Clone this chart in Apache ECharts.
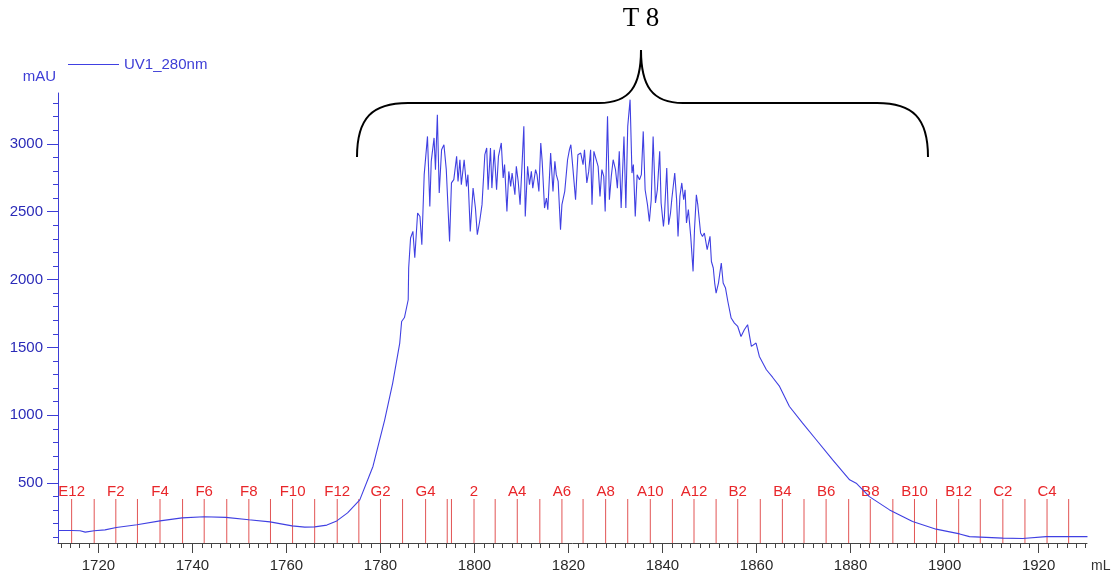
<!DOCTYPE html>
<html lang="en">
<head>
<meta charset="UTF-8">
<style>
  html, body { height: 100%; margin: 0; background: #fff; }
</style>
</head>
<body>
<div id="chart" style="width:1115px;height:580px;"></div>
<script src="https://cdn.jsdelivr.net/npm/echarts@6/dist/echarts.min.js"></script>
<script>
// UV trace (mL, mAU)
var volumeML = [
  1711.4, 1714.3, 1716.1, 1717.2, 1719.1, 1721.4, 1723.8, 1728.2, 1733.1, 1737.8,
  1742.5, 1747.1, 1752.0, 1756.5, 1761.2, 1763.9, 1766.0, 1768.6, 1770.7, 1773.0,
  1775.6, 1778.4, 1780.9, 1782.6, 1784.1, 1784.5, 1785.1, 1785.9, 1786.0, 1786.4,
  1786.9, 1787.3, 1787.9, 1788.4, 1788.8, 1789.3, 1790.0, 1790.5, 1790.8, 1791.4,
  1791.7, 1792.1, 1792.5, 1793.0, 1793.5, 1794.0, 1794.7, 1795.1, 1795.6, 1796.2,
  1796.5, 1796.9, 1797.2, 1797.8, 1798.3, 1798.6, 1799.1, 1799.7, 1800.2, 1800.6,
  1801.1, 1801.6, 1802.2, 1802.6, 1802.9, 1803.4, 1803.7, 1804.2, 1804.7, 1805.1,
  1805.7, 1806.1, 1806.4, 1806.9, 1807.3, 1807.7, 1808.0, 1808.6, 1808.9, 1809.3,
  1809.7, 1810.1, 1810.5, 1810.8, 1811.3, 1811.7, 1812.1, 1812.4, 1813.0, 1813.3,
  1813.7, 1814.1, 1814.4, 1814.9, 1815.3, 1815.6, 1816.2, 1816.7, 1817.1, 1817.4,
  1817.8, 1818.3, 1818.6, 1819.2, 1819.8, 1820.2, 1820.5, 1820.9, 1821.5, 1822.0,
  1822.6, 1823.1, 1823.4, 1823.9, 1824.3, 1824.7, 1825.0, 1825.4, 1825.8, 1826.3,
  1826.7, 1827.1, 1827.5, 1827.8, 1828.3, 1828.7, 1829.1, 1829.5, 1830.0, 1830.4,
  1830.8, 1831.2, 1831.8, 1832.2, 1832.6, 1833.1, 1833.5, 1833.8, 1834.2, 1834.6,
  1835.1, 1835.5, 1835.9, 1836.3, 1836.8, 1837.2, 1837.6, 1838.0, 1838.5, 1838.9,
  1839.4, 1839.7, 1840.2, 1840.4, 1840.9, 1841.3, 1841.7, 1842.0, 1842.6, 1843.0,
  1843.3, 1843.7, 1844.1, 1844.5, 1844.8, 1845.1, 1845.5, 1846.0, 1846.5, 1846.8,
  1847.2, 1847.5, 1848.1, 1848.5, 1848.9, 1849.5, 1850.1, 1850.4, 1850.8, 1851.1,
  1851.4, 1851.9, 1852.5, 1852.9, 1853.4, 1853.9, 1854.6, 1855.3, 1856.0, 1856.7,
  1857.4, 1858.1, 1858.9, 1859.9, 1860.6, 1862.1, 1863.4, 1864.9, 1867.0, 1869.8,
  1872.7, 1876.2, 1879.8, 1881.2, 1884.0, 1888.3, 1893.2, 1898.2, 1903.2, 1905.3,
  1912.4, 1916.6, 1921.6, 1930.4
];
var absorbanceMAU = [
  150, 150, 148, 138, 148, 155, 172, 192, 221, 243,
  251, 247, 229, 214, 184, 175, 177, 190, 221, 280,
  376, 622, 966, 1237, 1532, 1691, 1720, 1851, 2085, 2306,
  2355, 2160, 2490, 2465, 2257, 2773, 3055, 2539, 2871, 3044,
  2810, 3215, 2638, 2957, 2994, 2810, 2281, 2712, 2736, 2908,
  2723, 2883, 2699, 2883, 2687, 2773, 2355, 2674, 2527, 2330,
  2428, 2552, 2920, 2970, 2662, 2970, 2674, 2957, 2662, 2908,
  3007, 2749, 2847, 2502, 2797, 2687, 2785, 2625, 2834, 2723,
  2552, 2834, 3129, 2465, 2834, 2699, 2797, 2674, 2810, 2773,
  2650, 3007, 2871, 2527, 2601, 2515, 2932, 2650, 2871, 2773,
  2723, 2367, 2552, 2650, 2883, 2957, 2994, 2834, 2588, 2920,
  2932, 2847, 2957, 2712, 2797, 2957, 2552, 2945, 2957, 2834,
  2613, 2810, 2760, 2502, 3203, 2588, 2760, 2883, 2810, 2674,
  2945, 2527, 3055, 2527, 3129, 3326, 2785, 2847, 2465, 2773,
  2736, 2773, 3092, 2662, 2552, 2428, 2588, 3055, 2564, 2662,
  2945, 2564, 2392, 2465, 2822, 2404, 2490, 2601, 2785, 2588,
  2318, 2613, 2712, 2588, 2662, 2417, 2515, 2318, 2060, 2367,
  2625, 2552, 2343, 2318, 2343, 2220, 2318, 2133, 2085, 1974,
  1900, 1974, 2122, 1974, 1937, 1838, 1716, 1679, 1654, 1580,
  1630, 1667, 1507, 1532, 1433, 1335, 1280, 1212, 1064, 942,
  819, 671, 524, 499, 400, 302, 216, 160, 125, 105,
  94, 91, 105, 105
];

// fraction marks (mL) and their names; only even ones carry a label
var fractionML = [
  1714.3, 1719.1, 1723.7, 1728.3, 1733.1, 1737.9, 1742.5, 1747.3, 1752.0, 1756.6,
  1761.3, 1766.0, 1770.8, 1775.4, 1780.0, 1784.7, 1789.6, 1794.2, 1795.1, 1799.9,
  1804.4, 1809.1, 1813.9, 1818.6, 1823.1, 1827.9, 1832.6, 1837.4, 1842.1, 1846.7,
  1851.4, 1856.0, 1860.8, 1865.5, 1870.1, 1874.8, 1879.6, 1884.2, 1889.0, 1893.6,
  1898.3, 1903.0, 1907.6, 1912.4, 1917.1, 1921.8, 1926.4
];
var fractionLabels = [
  'E12', '', 'F2', '', 'F4', '', 'F6', '', 'F8', '',
  'F10', '', 'F12', '', 'G2', '', 'G4', '', '', '2',
  '', 'A4', '', 'A6', '', 'A8', '', 'A10', '', 'A12',
  '', 'B2', '', 'B4', '', 'B6', '', 'B8', '', 'B10',
  '', 'B12', '', 'C2', '', 'C4', ''
];

var xTickLabels = [1720, 1740, 1760, 1780, 1800, 1820, 1840, 1860, 1880, 1900, 1920];
var yTickLabels = [500, 1000, 1500, 2000, 2500, 3000];

var X_MIN = 1711.4, X_MAX = 1930.3;
var Y_MIN = 58, Y_MAX = 3375;

var xMinor = [];
for (var v = 1712; v <= 1930; v += 2) xMinor.push(v);
var yMinor = [];
for (var w = 100; w <= 3300; w += 100) yMinor.push(w);

var blue = '#3d3dd6';
var fontSans = 'Liberation Sans, Arial, sans-serif';
var plain = function (val) { return String(val); };

var trace = volumeML.map(function (x, i) { return [x, absorbanceMAU[i]]; });
var fractions = fractionML.map(function (x) { return [x, Y_MIN]; });

var myChart = echarts.init(document.getElementById('chart'));
myChart.setOption({
    animation: false,
    grid: { left: 58, right: 28, top: 93, bottom: 37 },
    legend: {
        data: [{ name: 'UV1_280nm', icon: 'rect' }],
        left: 63, top: 52,
        itemWidth: 51, itemHeight: 1,
        textStyle: { color: blue, fontSize: 15, fontFamily: fontSans }
    },
    xAxis: [{
        type: 'value', min: X_MIN, max: X_MAX,
        name: 'mL', nameLocation: 'end', nameGap: 4,
        nameTextStyle: { color: '#333', fontSize: 14, fontFamily: fontSans, verticalAlign: 'top', padding: [16, 0, 0, 0] },
        axisLine: { lineStyle: { color: '#444', width: 1 } },
        axisTick: { customValues: xTickLabels, length: 10, lineStyle: { color: '#444' } },
        axisLabel: { customValues: xTickLabels, formatter: plain, color: '#2a2a2a', fontSize: 15, fontFamily: fontSans, margin: 15 },
        splitLine: { show: false }
    }, {
        type: 'value', min: X_MIN, max: X_MAX, position: 'bottom',
        axisLine: { show: false },
        axisTick: { customValues: xMinor, length: 5, lineStyle: { color: '#444' } },
        axisLabel: { show: false },
        splitLine: { show: false }
    }],
    yAxis: [{
        type: 'value', min: Y_MIN, max: Y_MAX,
        name: 'mAU', nameLocation: 'end', nameGap: 9,
        nameTextStyle: { color: blue, fontSize: 15, fontFamily: fontSans, align: 'right', padding: [0, 2, 0, 0] },
        axisLine: { show: true, lineStyle: { color: blue, width: 1 } },
        axisTick: { show: true, customValues: yTickLabels, length: 11, lineStyle: { color: blue } },
        axisLabel: { customValues: yTickLabels, formatter: plain, color: '#2b2bb8', fontSize: 15, fontFamily: fontSans, margin: 15 },
        splitLine: { show: false }
    }, {
        type: 'value', min: Y_MIN, max: Y_MAX, position: 'left',
        axisLine: { show: false },
        axisTick: { show: true, customValues: yMinor, length: 5, lineStyle: { color: blue } },
        axisLabel: { show: false },
        splitLine: { show: false }
    }],
    series: [{
        name: 'UV1_280nm',
        type: 'line',
        symbol: 'none',
        data: trace,
        lineStyle: { color: '#4040e2', width: 1.1 },
        itemStyle: { color: '#4040e2' },
        z: 3
    }, {
        name: 'fractions',
        type: 'custom',
        data: fractions,
        encode: { x: 0, y: 1 },
        silent: true,
        z: 2,
        renderItem: function (params, api) {
            var p = api.coord([api.value(0), api.value(1)]);
            var label = fractionLabels[params.dataIndex];
            var children = [{
                type: 'line',
                shape: { x1: p[0], y1: p[1], x2: p[0], y2: p[1] - 44 },
                style: { stroke: '#e25555', lineWidth: 1 }
            }];
            if (label) {
                children.push({
                    type: 'text',
                    style: {
                        text: label, x: p[0], y: p[1] - 51,
                        align: 'center', verticalAlign: 'middle',
                        fill: '#e8262a', fontSize: 15, fontFamily: fontSans
                    }
                });
            }
            return { type: 'group', children: children };
        }
    }],
    graphic: [
        { type: 'bezierCurve', shape: { x1: 357, y1: 157, cpx1: 357, cpy1: 118, cpx2: 372, cpy2: 103, x2: 408, y2: 103 }, style: { stroke: '#000', lineWidth: 2, fill: null } },
        { type: 'line', shape: { x1: 408, y1: 103, x2: 599, y2: 103 }, style: { stroke: '#000', lineWidth: 2 } },
        { type: 'bezierCurve', shape: { x1: 599, y1: 103, cpx1: 630, cpy1: 103, cpx2: 641, cpy2: 86, x2: 641, y2: 50 }, style: { stroke: '#000', lineWidth: 2, fill: null } },
        { type: 'bezierCurve', shape: { x1: 641, y1: 50, cpx1: 641, cpy1: 86, cpx2: 652, cpy2: 103, x2: 683, y2: 103 }, style: { stroke: '#000', lineWidth: 2, fill: null } },
        { type: 'line', shape: { x1: 683, y1: 103, x2: 877, y2: 103 }, style: { stroke: '#000', lineWidth: 2 } },
        { type: 'bezierCurve', shape: { x1: 877, y1: 103, cpx1: 913, cpy1: 103, cpx2: 928, cpy2: 118, x2: 928, y2: 157 }, style: { stroke: '#000', lineWidth: 2, fill: null } },
        { type: 'text', x: 641, y: 19, style: { text: 'T 8', fill: '#000', fontSize: 27, fontFamily: 'Liberation Serif, Times New Roman, serif', align: 'center', verticalAlign: 'middle' } }
    ]
});
</script>
</body>
</html>
